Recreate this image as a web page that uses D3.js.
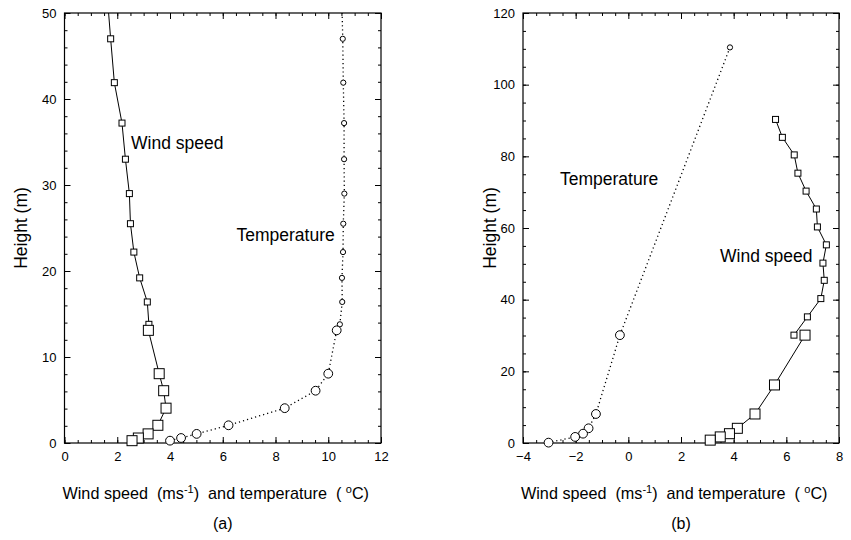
<!DOCTYPE html>
<html>
<head>
<meta charset="utf-8">
<script src="https://cdn.jsdelivr.net/npm/d3@7"></script>
<style>
  body { margin: 0; background: #fff; }
  text { font-family: "Liberation Sans", Arial, sans-serif; fill: #000; }
</style>
</head>
<body>
<div id="chart"></div>
<script>

// ---- panel (a) data : [value, height] ----
// upper mast sensors (small markers)
var aHeightsUpper = [52, 47, 41.9, 37.2, 33, 29, 25.5, 22.2, 19.2, 16.4, 13.8];
var aWindUpper    = [1.62, 1.75, 1.89, 2.18, 2.31, 2.46, 2.50, 2.63, 2.85, 3.14, 3.20];
var aTempUpper    = [10.51, 10.55, 10.57, 10.6, 10.6, 10.61, 10.57, 10.56, 10.52, 10.53, 10.44];
// lower sensors (large markers)
var aHeightsLower = [13.1, 8.06, 6.08, 4.05, 2.06, 1.06, 0.58, 0.27];
var aWindLower    = [3.18, 3.59, 3.76, 3.85, 3.54, 3.17, 2.80, 2.56];
var aTempLower    = [10.32, 10.0, 9.52, 8.35, 6.22, 5.01, 4.42, 4.0];

// ---- panel (b) data ----
var bWindHeightsUpper = [90.3, 85.3, 80.4, 75.3, 70.3, 65.3, 60.3, 55.3, 50.2, 45.4, 40.3, 35.2, 30.1];
var bWindUpper        = [5.59, 5.85, 6.30, 6.44, 6.75, 7.14, 7.18, 7.52, 7.39, 7.44, 7.31, 6.80, 6.29];
var bWindHeightsLower = [30.1, 16.2, 8.1, 4.1, 2.6, 1.7, 0.8];
var bWindLower        = [6.71, 5.55, 4.81, 4.14, 3.84, 3.49, 3.11];
var bTempHeightsUpper = [110.4];
var bTempUpper        = [3.86];
var bTempHeightsLower = [30.1, 8.1, 4.1, 2.6, 1.7, 0.1];
var bTempLower        = [-0.32, -1.23, -1.51, -1.72, -2.02, -3.03];

// axis settings
var aXDomain = [0, 12], aYDomain = [0, 50];
var bXDomain = [-4, 8], bYDomain = [0, 120];

var svg = d3.select("#chart").append("svg")
    .attr("width", 851)
    .attr("height", 540);

function pairs(vals, hs) {
  return vals.map(function(v, i) { return {v: v, h: hs[i]}; });
}

function drawPanel(opt) {
  var g = svg.append("g").attr("transform", "translate(" + opt.left + "," + opt.top + ")");
  var w = opt.width, h = opt.height;

  var x = d3.scaleLinear().domain(opt.xDomain).range([0, w]);
  var y = d3.scaleLinear().domain(opt.yDomain).range([h, 0]);

  // clip for lines leaving the top
  g.append("clipPath").attr("id", opt.id + "clip")
    .append("rect").attr("width", w).attr("height", h);

  // tick positions
  var xMinor = d3.range(opt.xDomain[0], opt.xDomain[1] + 0.01, opt.xMinor);
  var yMinor = d3.range(opt.yDomain[0], opt.yDomain[1] + 0.01, opt.yMinor);
  var xMajor = d3.range(opt.xDomain[0], opt.xDomain[1] + 0.01, opt.xMajor);
  var yMajor = d3.range(opt.yDomain[0], opt.yDomain[1] + 0.01, opt.yMajor);

  // minor ticks on all four sides, pointing inward
  function minorAxis(axis, vals, tr) {
    g.append("g").attr("class", "minor").attr("transform", tr)
      .call(axis.tickValues(vals).tickSize(-3).tickFormat(""));
  }
  minorAxis(d3.axisBottom(x), xMinor, "translate(0," + h + ")");
  minorAxis(d3.axisTop(x), xMinor, "translate(0,0)");
  minorAxis(d3.axisLeft(y), yMinor, "translate(0,0)");
  minorAxis(d3.axisRight(y), yMinor, "translate(" + w + ",0)");

  // major ticks
  g.append("g").attr("transform", "translate(0," + h + ")")
    .call(d3.axisBottom(x).tickValues(xMajor).tickSize(-6).tickPadding(9).tickFormat(d3.format("d")));
  g.append("g")
    .call(d3.axisTop(x).tickValues(xMajor).tickSize(-6).tickFormat(""));
  g.append("g")
    .call(d3.axisLeft(y).tickValues(yMajor).tickSize(-6).tickPadding(8).tickFormat(d3.format("d")));
  g.append("g").attr("transform", "translate(" + w + ",0)")
    .call(d3.axisRight(y).tickValues(yMajor).tickSize(-6).tickFormat(""));

  g.selectAll(".domain").remove();
  g.selectAll(".tick line").attr("stroke", "#000").attr("stroke-width", 1);
  g.selectAll(".tick text").attr("font-size", 13).attr("font-family", "Liberation Sans, Arial, sans-serif");

  // frame
  g.append("rect")
    .attr("width", w).attr("height", h)
    .attr("fill", "none").attr("stroke", "#000").attr("stroke-width", 1.2);

  var line = d3.line().x(function(d) { return x(d.v); }).y(function(d) { return y(d.h); });
  var plot = g.append("g").attr("clip-path", "url(#" + opt.id + "clip)");

  opt.lines.forEach(function(L) {
    plot.append("path")
      .datum(L.data)
      .attr("d", line)
      .attr("fill", "none")
      .attr("stroke", "#000")
      .attr("stroke-width", L.dotted ? 1.3 : 1)
      .attr("stroke-dasharray", L.dotted ? "1.2,3" : null);
  });

  // markers
  opt.markers.forEach(function(M) {
    var pts = M.data.filter(function(d) { return d.h <= opt.yDomain[1]; });
    if (M.shape === "square") {
      g.selectAll(null).data(pts).enter().append("rect")
        .attr("x", function(d) { return x(d.v) - M.size / 2; })
        .attr("y", function(d) { return y(d.h) - M.size / 2; })
        .attr("width", M.size).attr("height", M.size)
        .attr("fill", "#fff").attr("stroke", "#000").attr("stroke-width", 1);
    } else {
      g.selectAll(null).data(pts).enter().append("circle")
        .attr("cx", function(d) { return x(d.v); })
        .attr("cy", function(d) { return y(d.h); })
        .attr("r", M.size)
        .attr("fill", "#fff").attr("stroke", "#000").attr("stroke-width", 1);
    }
  });

  // series labels
  opt.labels.forEach(function(t) {
    g.append("text").attr("x", t.x).attr("y", t.y)
      .attr("font-size", 17.5).text(t.text);
  });

  // y axis title
  g.append("text")
    .attr("transform", "translate(" + opt.yTitleX + "," + (h / 2) + ") rotate(-90)")
    .attr("text-anchor", "middle")
    .attr("dy", "0.35em")
    .attr("font-size", 17.5)
    .text("Height (m)");

  // x axis title with superscripts
  var xt = g.append("text")
    .attr("x", -2).attr("y", h + 56)
    .attr("font-size", 16.2);
  xt.append("tspan").text("Wind speed\u00a0\u00a0(ms");
  xt.append("tspan").attr("dy", -6).attr("font-size", 11).text("-1");
  xt.append("tspan").attr("dy", 6).text(")\u00a0\u00a0and temperature\u00a0\u00a0(\u00a0");
  xt.append("tspan").attr("dy", -6).attr("font-size", 11).text("o");
  xt.append("tspan").attr("dy", 6).text("C)");

  // panel letter
  g.append("text")
    .attr("x", w / 2).attr("y", h + 86)
    .attr("text-anchor", "middle")
    .attr("font-family", "Liberation Serif, Times New Roman, serif")
    .attr("font-size", 16)
    .text(opt.letter);
}

var aWindAll = pairs(aWindUpper, aHeightsUpper).concat(pairs(aWindLower, aHeightsLower));
var aTempAll = pairs(aTempUpper, aHeightsUpper).concat(pairs(aTempLower, aHeightsLower));

drawPanel({
  id: "a", left: 64.5, top: 13, width: 316.5, height: 430,
  xDomain: aXDomain, yDomain: aYDomain,
  xMajor: 2, xMinor: 0.5, yMajor: 10, yMinor: 2,
  lines: [{data: aWindAll}, {data: aTempAll, dotted: true}],
  markers: [
    {data: pairs(aWindUpper, aHeightsUpper), shape: "square", size: 6},
    {data: pairs(aWindLower, aHeightsLower), shape: "square", size: 10},
    {data: pairs(aTempUpper, aHeightsUpper), shape: "circle", size: 2.6},
    {data: pairs(aTempLower, aHeightsLower), shape: "circle", size: 4.4}
  ],
  labels: [
    {text: "Wind speed", x: 66.5, y: 136},
    {text: "Temperature", x: 172, y: 228}
  ],
  yTitleX: -44,
  letter: "(a)"
});

drawPanel({
  id: "b", left: 523, top: 13, width: 316, height: 430,
  xDomain: bXDomain, yDomain: bYDomain,
  xMajor: 2, xMinor: 0.5, yMajor: 20, yMinor: 5,
  lines: [
    {data: pairs(bWindUpper, bWindHeightsUpper)},
    {data: pairs(bWindLower, bWindHeightsLower)},
    {data: pairs(bTempUpper, bTempHeightsUpper).concat(pairs(bTempLower, bTempHeightsLower)), dotted: true}
  ],
  markers: [
    {data: pairs(bWindUpper, bWindHeightsUpper), shape: "square", size: 6},
    {data: pairs(bWindLower, bWindHeightsLower), shape: "square", size: 10},
    {data: pairs(bTempUpper, bTempHeightsUpper), shape: "circle", size: 2.6},
    {data: pairs(bTempLower, bTempHeightsLower), shape: "circle", size: 4.4}
  ],
  labels: [
    {text: "Temperature", x: 37, y: 172},
    {text: "Wind speed", x: 197, y: 249}
  ],
  yTitleX: -33,
  letter: "(b)"
});

</script>
</body>
</html>
